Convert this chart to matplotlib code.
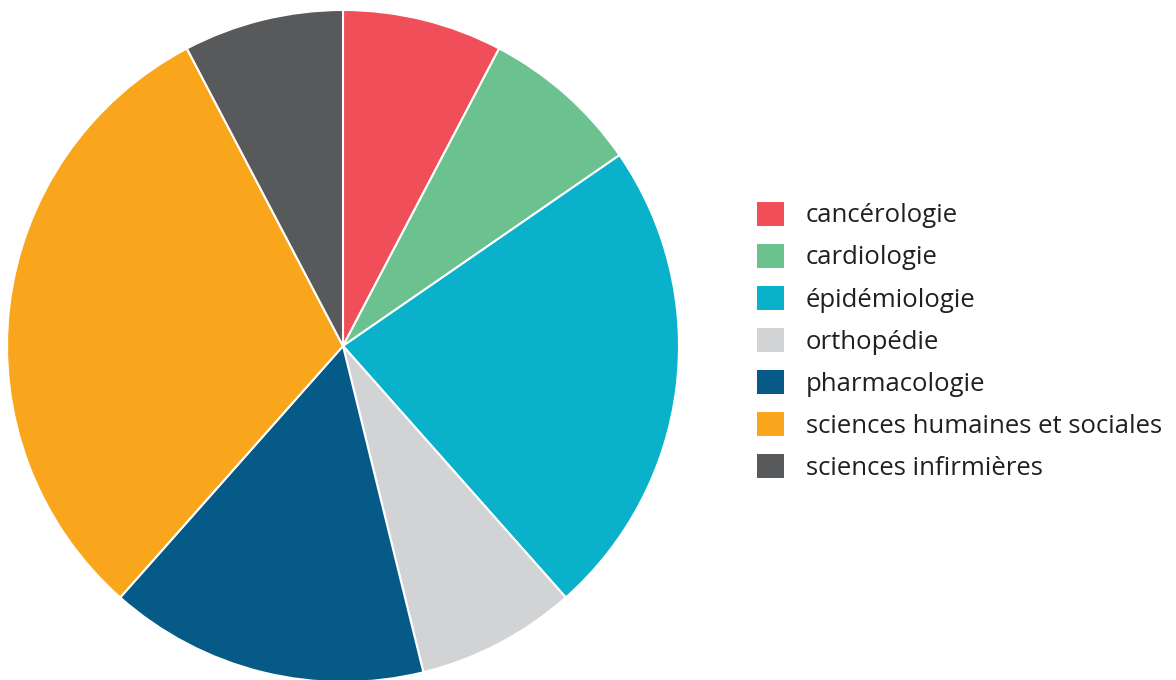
import matplotlib.pyplot as plt
from matplotlib.patches import Patch

plt.rcParams['font.family'] = ['Open Sans', 'DejaVu Sans']

# disciplines, read clockwise from 12 o'clock
labels = ['cancérologie', 'cardiologie', 'épidémiologie', 'orthopédie',
          'pharmacologie', 'sciences humaines et sociales', 'sciences infirmières']
values = [1, 1, 3, 1, 2, 4, 1]
colors = ['#F04E58', '#6BC28F', '#0AB1CB', '#D1D3D4',
          '#055A88', '#F9A61C', '#58595B']

fig = plt.figure(figsize=(11.76, 6.8), dpi=100)
ax = fig.add_axes([7/1176, -2/680, 672/1176, 672/680])

ax.pie(values, colors=colors, startangle=90, counterclock=False, radius=1,
       wedgeprops=dict(edgecolor='white', linewidth=1.5))
ax.set_xlim(-1.0, 1.0)
ax.set_ylim(-1.0, 1.0)
ax.set_aspect('equal')
ax.axis('off')

handles = [Patch(facecolor=c, edgecolor='none') for c in colors]
fig.legend(handles, labels, loc='upper left', bbox_to_anchor=(749/1176, 1 - 194/680),
           frameon=False, fontsize=18.5, handlelength=1.05, handleheight=1.05,
           handletextpad=0.85, labelspacing=0.6, labelcolor='#231F20',
           borderaxespad=0, borderpad=0.3)

fig.savefig('out.png', dpi=100)
